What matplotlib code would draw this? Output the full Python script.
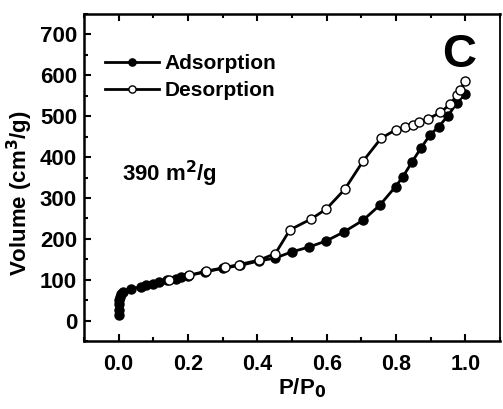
#!/usr/bin/env python3
"""
N2 adsorption/desorption isotherm, panel C
"""

import matplotlib
matplotlib.use('Agg')
import matplotlib.pyplot as plt
from matplotlib.ticker import MultipleLocator

plt.rcParams['font.family'] = ['Liberation Sans', 'DejaVu Sans']
plt.rcParams['font.weight'] = 'bold'
plt.rcParams['mathtext.default'] = 'bf'

# adsorption branch (filled)
ads_p = [0.0, 0.0, 0.0, 0.001, 0.003, 0.007, 0.012, 0.035, 0.064, 0.079,
         0.1, 0.117, 0.14, 0.165, 0.18, 0.2, 0.25, 0.3, 0.35, 0.405, 0.451,
         0.499, 0.549, 0.599, 0.65, 0.704, 0.753, 0.799, 0.82, 0.847, 0.872,
         0.898, 0.923, 0.95, 0.976, 1.0]
ads_v = [14, 27, 40, 50, 58, 64, 70, 77, 83, 87,
         90, 94, 99, 103, 106, 110, 119, 128, 135, 146, 153,
         168, 180, 195, 217, 245, 282, 328, 352, 389, 422,
         454, 474, 501, 533, 555]

# desorption branch (open)
des_p = [0.144, 0.204, 0.252, 0.306, 0.346, 0.405, 0.452, 0.494, 0.556,
         0.599, 0.652, 0.705, 0.757, 0.8, 0.825, 0.849, 0.866, 0.892, 0.928,
         0.956, 0.976, 0.986, 1.0]
des_v = [100, 111, 121, 130, 137, 148, 164, 222, 249,
         273, 321, 390, 446, 467, 473, 478, 485, 493, 509,
         529, 551, 564, 586]

fig = plt.figure(figsize=(5.03, 4.09), dpi=100)
ax = fig.add_axes([0.167, 0.166, 0.827, 0.800])

ax.plot(ads_p, ads_v, '-o', color='black', lw=2, ms=6.5, mfc='black',
        mec='black', label='Adsorption')
ax.plot(des_p, des_v, '-o', color='black', lw=2, ms=6.5, mfc='white',
        mec='black', mew=1, label='Desorption')

ax.set_xlim(-0.1, 1.1)
ax.set_ylim(-50, 750)
ax.xaxis.set_minor_locator(MultipleLocator(0.1))
ax.yaxis.set_minor_locator(MultipleLocator(50))
ax.set_yticks(range(0, 701, 100))
ax.set_xticks([0.0, 0.2, 0.4, 0.6, 0.8, 1.0])
ax.set_xticklabels(['0.0', '0.2', '0.4', '0.6', '0.8', '1.0'])

ax.tick_params(which='both', direction='in', top=True, right=False,
               width=1.5)
ax.tick_params(axis='x', labelsize=15.5, pad=9)
ax.tick_params(axis='y', labelsize=16, pad=5)
ax.tick_params(which='major', length=5)
ax.tick_params(which='minor', length=3)
for lab in ax.get_xticklabels() + ax.get_yticklabels():
    lab.set_fontweight('bold')
for key in ax.spines:
    ax.spines[key].set_linewidth(1.8)
ax.spines['right'].set_linewidth(1.3)

ax.set_xlabel('P/P$_\\mathbf{0}$', fontsize=16, fontweight='bold')
ax.set_ylabel('Volume (cm$^\\mathbf{3}$/g)', fontsize=16, fontweight='bold')
ax.xaxis.set_label_coords(0.524, -0.107)
ax.yaxis.set_label_coords(-0.118, 0.453)

ax.legend(loc='upper left', bbox_to_anchor=(0.05, 0.877), frameon=False,
          borderpad=0, borderaxespad=0, handlelength=2.6, handletextpad=0.25,
          labelspacing=0.4, markerscale=0.8,
          prop={'weight': 'bold', 'size': 15})

ax.text(0.092, 0.51, '390 m$^\\mathbf{2}$/g', transform=ax.transAxes,
        fontsize=16, fontweight='bold', va='center')
ax.text(0.942, 0.875, 'C', transform=ax.transAxes, fontsize=34,
        fontweight='bold', ha='right', va='center')

fig.savefig('out.png', dpi=100)
